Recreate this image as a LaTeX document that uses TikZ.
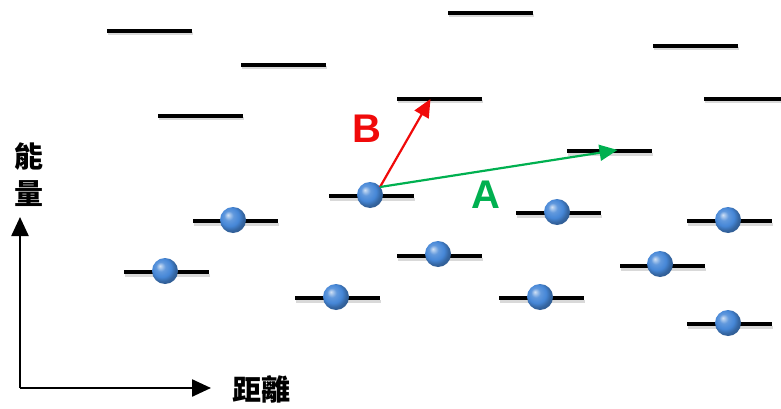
\documentclass[tikz,border=0pt]{standalone}
\usepackage{fontspec}
\setmainfont{Liberation Sans}
\newfontfamily\cjkfont{Noto Sans CJK TC}
\usetikzlibrary{arrows.meta,calc}
\definecolor{jumpgreen}{RGB}{0,176,80}
\definecolor{jumpred}{RGB}{240,10,10}
\definecolor{electronblue}{RGB}{70,135,215}
% glossy sphere with a softer dark rim than the standard ball shading
\pgfdeclareradialshading{electronball}{\pgfqpoint{-10bp}{10bp}}{%
  color(0bp)=(electronblue!25!white);
  color(9bp)=(electronblue!85!white);
  color(18bp)=(electronblue);
  color(25bp)=(electronblue!75!black);
  color(50bp)=(electronblue!35!black)}
\begin{document}
\begin{tikzpicture}[x=1pt,y=-1pt,
  level/.style={fill=black,inner sep=0pt,minimum width=85pt,minimum height=3.6pt,
    draw=none},
  levelshadow/.style={fill=black!15,inner sep=0pt,minimum width=85pt,minimum height=3pt},
  electron/.style={circle,inner sep=0pt,minimum size=26pt,shading=electronball},
  jump/.style={line width=2.2pt,-{Triangle[length=18pt,width=16pt]}},
  axis/.style={line width=2.4pt,-{Triangle[length=19pt,width=17pt]}},
  cjklabel/.style={font=\cjkfont\bfseries\fontsize{29}{29}\selectfont,inner sep=0pt},
  jumplabel/.style={font=\bfseries\fontsize{40}{40}\selectfont,inner sep=0pt}]
\useasboundingbox (0,0) rectangle (781,409);

% empty (unoccupied) energy levels
\foreach \n/\x/\y in {u1/149.5/31, u2/283.5/65, u3/200.5/116, u4/490.5/13,
  u5/439.5/99, u6/695.5/46, u8/609.5/151}{
  \node[levelshadow] at (\x+1,\y+3) {};
  \node[level] (\n) at (\x,\y) {};
}
\node[levelshadow,minimum width=78pt] at (743.5,102) {};
\node[level,minimum width=78pt] (u7) at (742.5,99) {};

% occupied levels, each with its electron
\foreach \n/\x/\y in {a/371/196, b/235.5/221, c/166.5/272, d/337.5/298,
  e/439.5/256, f/558.5/213, g/541.5/298, h/662.5/266, i/729.5/221, j/729.5/324}{
  \node[levelshadow] at (\x+1,\y+3) {};
  \node[level] (l\n) at (\x,\y) {};
}
\node[electron] (ea) at (370,195) {};
\node[electron] (eb) at (233,220) {};
\node[electron] (ec) at (165,271) {};
\node[electron] (ed) at (336,297) {};
\node[electron] (ee) at (438,254) {};
\node[electron] (ef) at (557,212) {};
\node[electron] (eg) at (540,297) {};
\node[electron] (eh) at (660,264) {};
\node[electron] (ei) at (728,220) {};
\node[electron] (ej) at (728,323) {};

% hopping transitions
\coordinate (startA) at ($(ea.center)+(10,-8)$);
\coordinate (endB) at ($(u5.center)+(-9,0)$);
\coordinate (endA) at ($(u8.center)+(8,-1)$);
\draw[jump,jumpred] (startA) -- (endB);
\draw[jump,jumpgreen] (startA) -- (endA);
\node[jumplabel,text=jumpred] (labB) at (367,129) {B};
\node[jumplabel,text=jumpgreen] (labA) at (486,195) {A};

% axes
\coordinate (origin) at (20,388);
\coordinate (ytip) at (20,217);
\coordinate (xtip) at (211,388);
\draw[axis] (origin) -- (ytip);
\draw[axis] (origin) -- (xtip);
\node[cjklabel] (yl1) at (29,157) {能};
\node[cjklabel] (yl2) at (29,194) {量};
\node[cjklabel,anchor=west] (xl) at (232,389) {距離};
\end{tikzpicture}
\end{document}
